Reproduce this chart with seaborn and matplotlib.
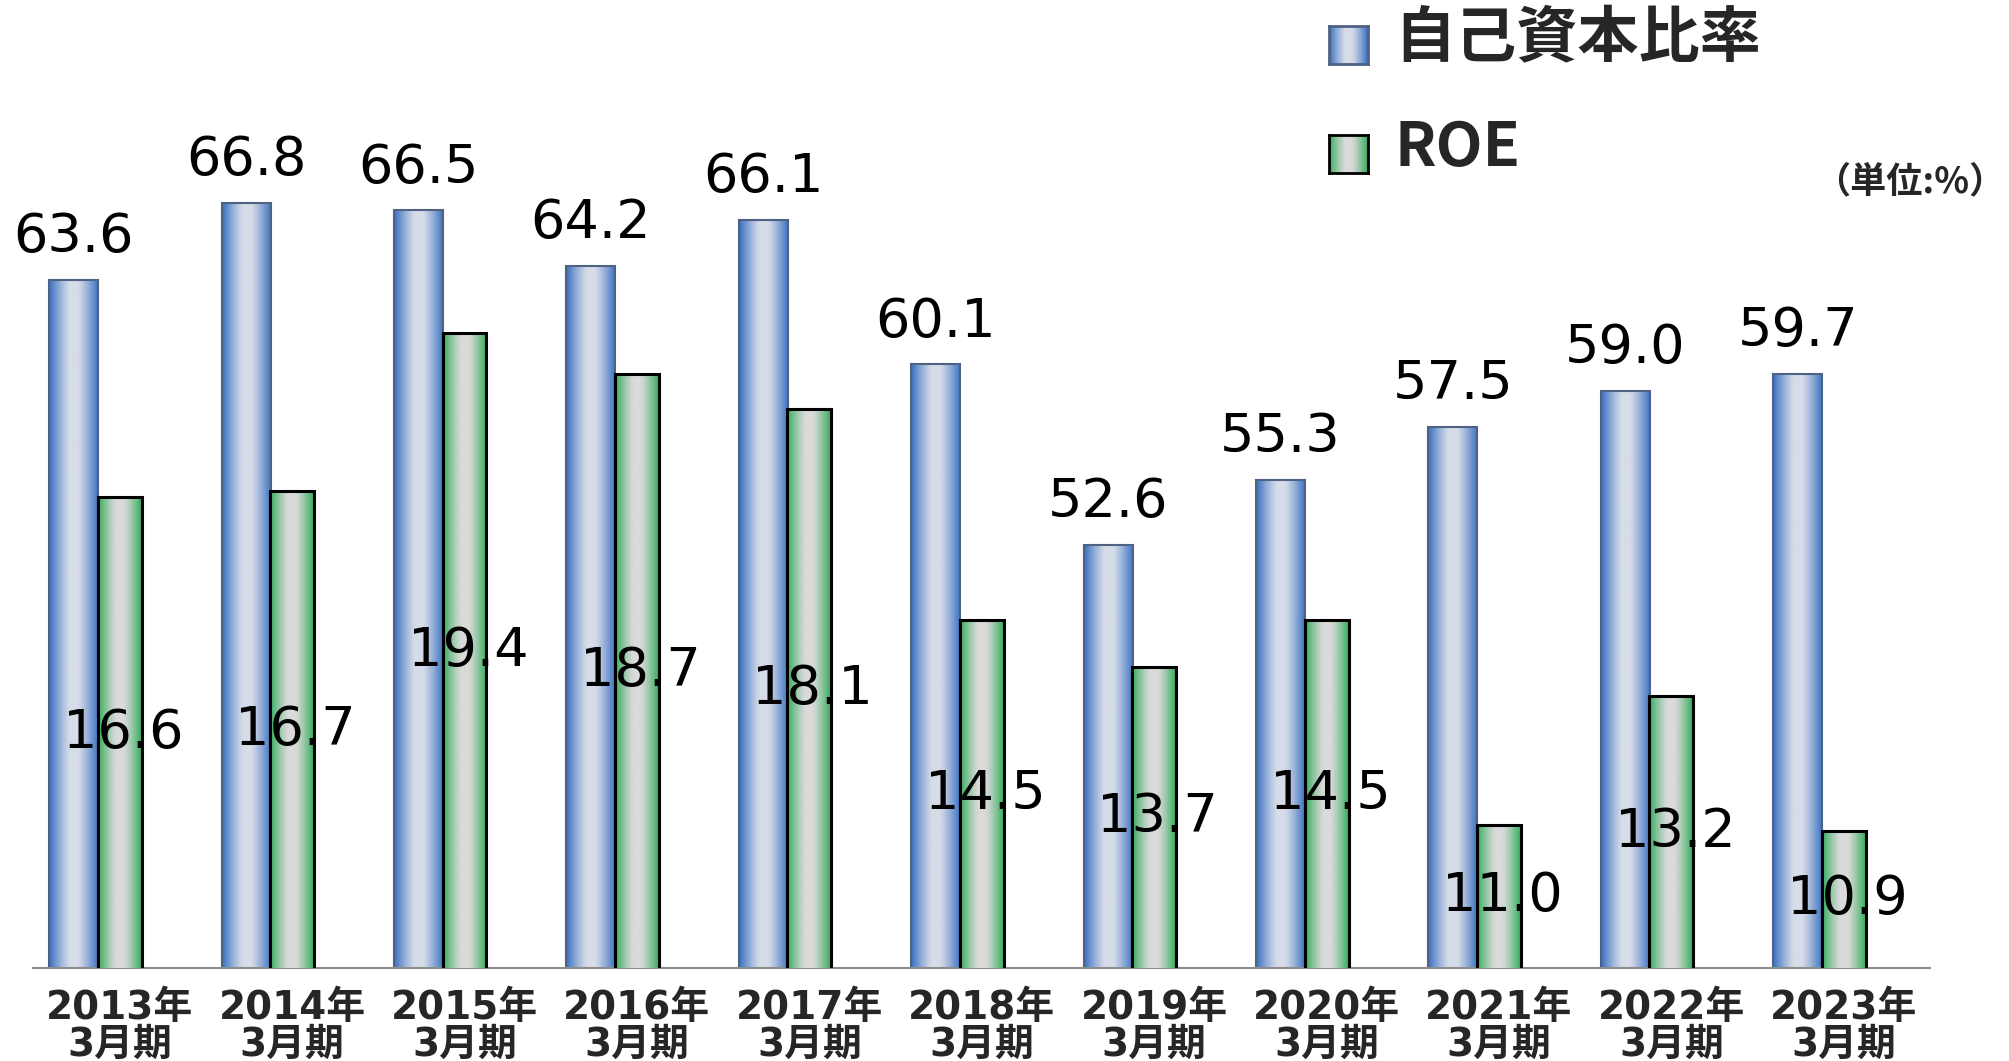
import matplotlib
matplotlib.use("Agg")
import matplotlib.pyplot as plt
from matplotlib.colors import to_rgb
import numpy as np
import pandas as pd
import seaborn as sns

# values
periods = ['2013年\n3月期', '2014年\n3月期', '2015年\n3月期', '2016年\n3月期', '2017年\n3月期',
           '2018年\n3月期', '2019年\n3月期', '2020年\n3月期', '2021年\n3月期', '2022年\n3月期',
           '2023年\n3月期']
equity_ratio = [63.6, 66.8, 66.5, 64.2, 66.1, 60.1, 52.6, 55.3, 57.5, 59.0, 59.7]
roe = [16.6, 16.7, 19.4, 18.7, 18.1, 14.5, 13.7, 14.5, 11.0, 13.2, 10.9]

series_names = ['自己資本比率', 'ROE']

BLUE_DARK, BLUE_LIGHT = '#3870C2', '#D6DCE8'
GREEN_DARK, GREEN_LIGHT = '#36AD5D', '#DADADA'

CJK = ['Noto Sans CJK JP', 'DejaVu Sans']
LATIN_FIRST = ['DejaVu Sans', 'Noto Sans CJK JP']


def gradient(dark, light, n=64):
    # horizontal gradient: dark at both edges, light in the middle
    x = np.linspace(0, 1, n)
    t = np.clip((np.abs(x - 0.5) - 0.08) / 0.42, 0, 1) ** 1.2
    d, l = np.array(to_rgb(dark)), np.array(to_rgb(light))
    row = l[None, :] * (1 - t[:, None]) + d[None, :] * t[:, None]
    return row[None, :, :]


def shade_bars(axis, dark, light):
    img = gradient(dark, light)
    for p in list(axis.patches):
        x0, y0 = p.get_x(), p.get_y()
        axis.imshow(img, extent=[x0, x0 + p.get_width(), y0, y0 + p.get_height()],
                    aspect='auto', interpolation='bilinear', zorder=p.get_zorder() - 0.01)
        p.set_facecolor('none')


sns.set_theme(style="white")
plt.rcParams['font.family'] = LATIN_FIRST

fig = plt.figure(figsize=(20.09, 10.61), dpi=100)
ax = fig.add_axes([0.01667, 0.0877, 0.944, 0.9067])
ax2 = ax.twinx()

idx = np.arange(len(periods))
df = pd.DataFrame({'pos_blue': idx - 0.267, 'pos_green': idx.astype(float),
                   'equity': equity_ratio, 'roe': roe})

sns.barplot(data=df, x='pos_blue', y='equity', native_scale=True, width=0.285,
            color=BLUE_DARK, edgecolor='#4F6283', linewidth=1.5, errorbar=None, ax=ax)
sns.barplot(data=df, x='pos_green', y='roe', native_scale=True, width=0.255,
            color=GREEN_DARK, edgecolor='black', linewidth=2.2, errorbar=None, ax=ax2)

shade_bars(ax, BLUE_DARK, BLUE_LIGHT)
shade_bars(ax2, GREEN_DARK, GREEN_LIGHT)

y1_lo, y1_hi = 35, 75
y2_lo, y2_hi = 8.55, 25.0
ax.set_ylim(y1_lo, y1_hi)
ax2.set_ylim(y2_lo, y2_hi)

# value labels
for x, v in zip(df['pos_blue'], equity_ratio):
    ax.annotate(f'{v:.1f}', (x, v), xytext=(0, 20), textcoords='offset points',
                ha='center', va='baseline', fontsize=39, color='black')
for x, v in zip(df['pos_green'], roe):
    ax2.text(x + 0.02, (y2_lo + v) / 2, f'{v:.1f}', ha='center', va='center',
             fontsize=39, color='black', zorder=10)

# axes styling
for a in (ax, ax2):
    for s in ('top', 'left', 'right'):
        a.spines[s].set_visible(False)
    a.set_yticks([])
    a.set_ylabel('')
    a.set_xlabel('')
ax2.spines['bottom'].set_visible(False)
ax.spines['bottom'].set_color('#8C8C8C')
ax.spines['bottom'].set_linewidth(1.5)

# category labels, with the small tick marks sitting between categories
ax.set_xticks(idx)
ax.set_xticklabels(periods, family=LATIN_FIRST, fontweight='bold', fontsize=28, linespacing=0.97)
ax.set_xticks(np.arange(-0.5, len(periods)), minor=True)
ax.tick_params(axis='x', which='major', length=0, pad=15)
ax.tick_params(axis='x', which='minor', length=13, width=1.5, color='#8C8C8C', direction='out')
ax.set_xlim(-0.5, len(periods) - 0.5)

# legend built by hand so the swatches carry the same gradient
legend_rows = [(series_names[0], BLUE_DARK, BLUE_LIGHT, '#4F6283', 0.9397, 0.9623),
               (series_names[1], GREEN_DARK, GREEN_LIGHT, 'black', 0.8370, 0.8605)]
for name, dark, light, edge, sq_bottom, text_y in legend_rows:
    sw = fig.add_axes([0.6615, sq_bottom, 0.0194, 0.0358])
    sw.imshow(gradient(dark, light), extent=[0, 1, 0, 1], aspect='auto', interpolation='bilinear')
    sw.set_xticks([])
    sw.set_yticks([])
    for s in sw.spines.values():
        s.set_visible(True)
        s.set_color(edge)
        s.set_linewidth(2)
    fig.text(0.6939, text_y, name, family=CJK, fontweight='bold', fontsize=44,
             ha='left', va='center')

fig.text(0.998, 0.8285, '（単位:%）', family=CJK, fontweight='bold', fontsize=26,
         ha='right', va='center')

fig.savefig('out.png', dpi=100, facecolor='white')
